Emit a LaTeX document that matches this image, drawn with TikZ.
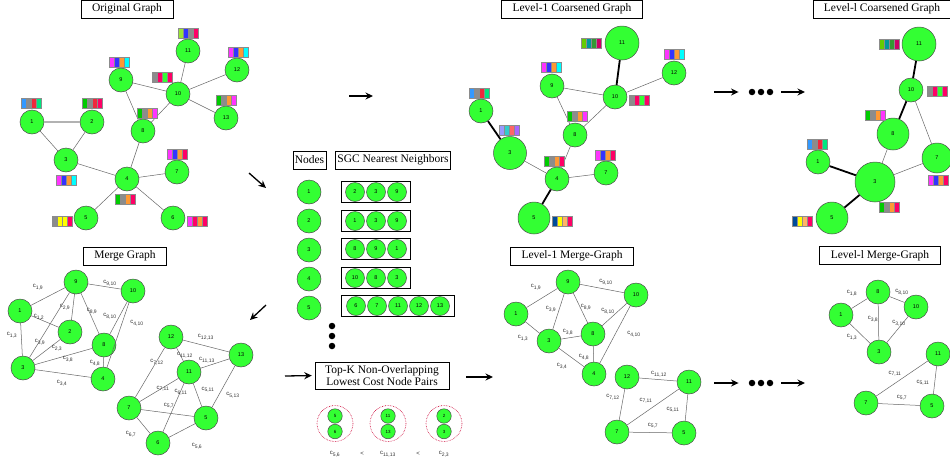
\documentclass[tikz,border=0pt]{standalone}
\usepackage{fontspec}
\setmainfont{Liberation Serif}
\setsansfont{Liberation Sans}
\usetikzlibrary{shapes,arrows.meta,positioning,calc,fit}

\definecolor{ngreen}{RGB}{51,255,51}
\definecolor{cBlue}{RGB}{51,153,255}
\definecolor{cGray}{RGB}{140,140,140}
\definecolor{cRed}{RGB}{240,40,60}
\definecolor{cSpring}{RGB}{0,230,128}
\definecolor{cGreen}{RGB}{0,204,0}
\definecolor{cPink}{RGB}{255,0,102}
\definecolor{cMag}{RGB}{255,51,255}
\definecolor{cBlueB}{RGB}{51,51,255}
\definecolor{cOrange}{RGB}{255,153,51}
\definecolor{cCyan}{RGB}{0,255,255}
\definecolor{cYellow}{RGB}{255,255,0}
\definecolor{cLime}{RGB}{153,230,51}
\definecolor{cOlive}{RGB}{102,204,0}
\definecolor{cTeal}{RGB}{0,153,153}
\definecolor{cDkGreen}{RGB}{51,153,51}
\definecolor{cCrimson}{RGB}{204,0,102}
\definecolor{cNavy}{RGB}{0,76,153}
\definecolor{cSand}{RGB}{255,179,102}
\definecolor{cLav}{RGB}{153,153,255}
\definecolor{cTurq}{RGB}{51,204,204}
\definecolor{cSalmon}{RGB}{255,102,102}
\definecolor{cPurple}{RGB}{170,102,255}

% feature bar: position, four cell colours
\newcommand{\featbar}[5]{%
  \begin{scope}[shift={#1}]
    \foreach \col [count=\i from 0] in {#2,#3,#4,#5}
      \filldraw[fill=\col, draw=black!45, line width=0.3pt] (-10+5*\i,-5) rectangle ++(5,10);
    \draw[black!45, line width=0.7pt] (-10,-5) rectangle (10,5);
  \end{scope}}
\newcommand{\ecost}[1]{c\textsubscript{#1}}

\begin{document}
\begin{tikzpicture}[
    x=1pt, y=-1pt,
    vertex/.style={circle, draw=black!70, fill=ngreen, line width=0.5pt, minimum size=24pt, inner sep=0pt, font=\fontsize{5.5}{6}\selectfont\sffamily},
    nbvertex/.style={vertex, minimum size=19pt},
    pairvertex/.style={vertex, minimum size=14.5pt, font=\fontsize{4.5}{5}\selectfont\sffamily},
    edge/.style={draw=black!60, line width=0.5pt},
    heavy/.style={draw=black, line width=1.8pt},
    lightedge/.style={draw=black!30, line width=1.8pt},
    title/.style={rectangle, draw, line width=0.6pt, font=\fontsize{11.5}{13}\selectfont, minimum height=18pt, inner xsep=11pt, inner ysep=0pt},
    head/.style={title, inner xsep=2pt},
    nbox/.style={rectangle, draw, line width=0.6pt, inner xsep=3.5pt, inner ysep=0.5pt},
    elab/.style={font=\fontsize{6}{6}\selectfont\sffamily, text=black!80, inner sep=0pt},
    arrow/.style={-{Stealth[length=7.5pt, width=7pt]}, line width=1.3pt},
    dot/.style={circle, fill=black, inner sep=0pt, minimum size=6.5pt},
    pairring/.style={circle, draw=purple!80!red, densely dotted, line width=0.6pt, minimum size=36pt}
]
\useasboundingbox (0,0) rectangle (950,461);

% Original graph
\node[title] (origtitle) at (127,9) {Original Graph};
\node[vertex] (o1) at (32,122) {1};
\node[vertex] (o2) at (92,122) {2};
\node[vertex] (o3) at (66,160) {3};
\node[vertex] (o4) at (127,179) {4};
\node[vertex] (o5) at (86,218) {5};
\node[vertex] (o6) at (173,218) {6};
\node[vertex] (o7) at (177,172) {7};
\node[vertex] (o8) at (143,131) {8};
\node[vertex] (o9) at (121,80) {9};
\node[vertex] (o10) at (178,94) {10};
\node[vertex] (o11) at (188,51) {11};
\node[vertex] (o12) at (237,70) {12};
\node[vertex] (o13) at (226,118) {13};
\draw[lightedge] (o1) -- (o2);
\draw[edge] (o1) -- (o3);
\draw[edge] (o2) -- (o3);
\draw[edge] (o3) -- (o4);
\draw[edge] (o4) -- (o8);
\draw[edge] (o4) -- (o5);
\draw[edge] (o4) -- (o6);
\draw[edge] (o4) -- (o7);
\draw[edge] (o8) -- (o9);
\draw[edge] (o8) -- (o10);
\draw[edge] (o9) -- (o10);
\draw[edge] (o10) -- (o11);
\draw[edge] (o10) -- (o12);
\draw[edge] (o10) -- (o13);
\featbar{(31,103)}{cBlue}{cGray}{cRed}{cSpring}
\featbar{(92,103)}{cGreen}{cGray}{cRed}{cPink}
\featbar{(66,180)}{cMag}{cBlueB}{cOrange}{cCyan}
\featbar{(125,199)}{cGreen}{cGray}{cOrange}{cPink}
\featbar{(62,221)}{cGray}{cYellow}{cYellow}{cPink}
\featbar{(197,221)}{cMag}{cPink}{cOrange}{cPink}
\featbar{(177,154)}{cMag}{cBlueB}{cOrange}{cPink}
\featbar{(147,113)}{cGreen}{cGray}{cOrange}{cMag}
\featbar{(119,62)}{cMag}{cBlueB}{cOrange}{cCyan}
\featbar{(162,77)}{cGray}{cPink}{ngreen}{cPink}
\featbar{(188,33)}{cLime}{cBlueB}{cGray}{cPink}
\featbar{(238,52)}{cMag}{cBlueB}{cOrange}{cCyan}
\featbar{(226,100)}{cGreen}{cGray}{cOrange}{cMag}

% Merge graph
\node[title] (mergetitle) at (125,256) {Merge Graph};
\node[vertex] (m9) at (76,282) {9};
\node[vertex] (m10) at (133,291) {10};
\node[vertex] (m1) at (20,311) {1};
\node[vertex] (m2) at (70,332) {2};
\node[vertex] (m8) at (104,345) {8};
\node[vertex] (m3) at (23,368) {3};
\node[vertex] (m4) at (103,379) {4};
\node[vertex] (m12) at (171,337) {12};
\node[vertex] (m13) at (241,355) {13};
\node[vertex] (m11) at (189,372) {11};
\node[vertex] (m7) at (129,408) {7};
\node[vertex] (m5) at (206,418) {5};
\node[vertex] (m6) at (158,443) {6};
\draw[edge] (m1) -- (m9);   \node[elab] at (38,287) {\ecost{1,9}};
\draw[edge] (m9) -- (m10);  \node[elab] at (110,283) {\ecost{9,10}};
\draw[edge] (m2) -- (m9);   \node[elab] at (65,307) {\ecost{2,9}};
\draw[edge] (m8) -- (m9);   \node[elab] at (92,311) {\ecost{8,9}};
\draw[edge] (m1) -- (m2);   \node[elab] at (39,317) {\ecost{1,2}};
\draw[edge] (m8) -- (m10);  \node[elab] at (110,316) {\ecost{8,10}};
\draw[edge] (m4) -- (m10);  \node[elab] at (137,323) {\ecost{4,10}};
\draw[edge] (m1) -- (m3);   \node[elab] at (12,335) {\ecost{1,3}};
\draw[edge] (m3) -- (m9);   \node[elab] at (40,342) {\ecost{3,9}};
\draw[edge] (m2) -- (m3);   \node[elab] at (57,348) {\ecost{2,3}};
\draw[edge] (m3) -- (m8);   \node[elab] at (68,359) {\ecost{3,8}};
\draw[edge] (m4) -- (m8);   \node[elab] at (95,363) {\ecost{4,8}};
\draw[edge] (m3) -- (m4);   \node[elab] at (62,383) {\ecost{3,4}};
\draw[edge] (m12) -- (m13); \node[elab] at (206,337) {\ecost{12,13}};
\draw[edge] (m11) -- (m12); \node[elab] at (185,355) {\ecost{11,12}};
\draw[edge] (m11) -- (m13); \node[elab] at (207,360) {\ecost{11,13}};
\draw[edge] (m7) -- (m12);  \node[elab] at (157,362) {\ecost{7,12}};
\draw[edge] (m7) -- (m11);  \node[elab] at (163,389) {\ecost{7,11}};
\draw[edge] (m6) -- (m11);  \node[elab] at (181,392) {\ecost{6,11}};
\draw[edge] (m5) -- (m11);  \node[elab] at (208,390) {\ecost{5,11}};
\draw[edge] (m5) -- (m13);  \node[elab] at (233,395) {\ecost{5,13}};
\draw[edge] (m5) -- (m7);   \node[elab] at (169,406) {\ecost{5,7}};
\draw[edge] (m6) -- (m7);   \node[elab] at (131,434) {\ecost{6,7}};
\draw[edge] (m5) -- (m6);   \node[elab] at (197,446) {\ecost{5,6}};

% Nodes and SGC nearest neighbours
\node[head] (nodeshead) at (309.5,160) {Nodes};
\node[head] (sgchead) at (393,160) {SGC Nearest Neighbors};
\node[vertex] (l1) at (309,192) {1};
\node[vertex, below=4.5pt of l1] (l2) {2};
\node[vertex, below=4.5pt of l2] (l3) {3};
\node[vertex, below=4.5pt of l3] (l4) {4};
\node[vertex, below=4.5pt of l4] (l5) {5};
\node[nbvertex] (r1a) at (355,192) {2};
\node[nbvertex, right=1.5pt of r1a] (r1b) {3};
\node[nbvertex, right=1.5pt of r1b] (r1c) {9};
\node[nbox, fit=(r1a)(r1c)] (row1) {};
\node[nbvertex] (r2a) at (355,221) {1};
\node[nbvertex, right=1.5pt of r2a] (r2b) {3};
\node[nbvertex, right=1.5pt of r2b] (r2c) {9};
\node[nbox, fit=(r2a)(r2c)] (row2) {};
\node[nbvertex] (r3a) at (355,249) {8};
\node[nbvertex, right=1.5pt of r3a] (r3b) {9};
\node[nbvertex, right=1.5pt of r3b] (r3c) {1};
\node[nbox, fit=(r3a)(r3c)] (row3) {};
\node[nbvertex] (r4a) at (355,278) {10};
\node[nbvertex, right=1.5pt of r4a] (r4b) {8};
\node[nbvertex, right=1.5pt of r4b] (r4c) {3};
\node[nbox, fit=(r4a)(r4c)] (row4) {};
\node[nbvertex] (r5a) at (356,306) {6};
\node[nbvertex, right=1.5pt of r5a] (r5b) {7};
\node[nbvertex, right=1.5pt of r5b] (r5c) {11};
\node[nbvertex, right=1.5pt of r5c] (r5d) {12};
\node[nbvertex, right=1.5pt of r5d] (r5e) {13};
\node[nbox, fit=(r5a)(r5e), inner xsep=5pt] (row5) {};
\node[dot] (vd1) at (332,326) {};
\node[dot] (vd2) at (332,336) {};
\node[dot] (vd3) at (332,346) {};

% Top-K pairs
\node[title, align=center, inner xsep=10pt, minimum height=27pt, font=\fontsize{11.5}{12.5}\selectfont] (topk) at (382,375.5) {Top-K Non-Overlapping\\Lowest Cost Node Pairs};
\node[pairvertex] (p1a) at (335,416) {5};
\node[pairvertex, below=0.5pt of p1a] (p1b) {6};
\node[pairring] (ring1) at (335,423.5) {};
\node[pairvertex] (p2a) at (388,416) {11};
\node[pairvertex, below=0.5pt of p2a] (p2b) {13};
\node[pairring] (ring2) at (388,423.5) {};
\node[pairvertex] (p3a) at (444,416) {2};
\node[pairvertex, below=0.5pt of p3a] (p3b) {3};
\node[pairring] (ring3) at (444,423.5) {};
\node[elab] (cost1) at (335,454) {\ecost{5,6}};
\node[elab] (lt1) at (362,454) {<};
\node[elab] (cost2) at (388,454) {\ecost{11,13}};
\node[elab] (lt2) at (418,454) {<};
\node[elab] (cost3) at (444,454) {\ecost{2,3}};

% Level-1 coarsened graph
\node[title] (l1ctitle) at (572,9) {Level-1 Coarsened Graph};
\node[vertex, minimum size=34pt] (a11) at (622,43) {11};
\node[vertex] (a12) at (674,73) {12};
\node[vertex] (a9) at (552,86) {9};
\node[vertex] (a10) at (615,97) {10};
\node[vertex] (a1) at (481,111) {1};
\node[vertex] (a8) at (575,135) {8};
\node[vertex, minimum size=33pt] (a3) at (510,153) {3};
\node[vertex] (a4) at (557,179) {4};
\node[vertex] (a7) at (606,173) {7};
\node[vertex, minimum size=32pt] (a5) at (534,218) {5};
\draw[heavy] (a11) -- (a10);
\draw[edge] (a10) -- (a12);
\draw[edge] (a9) -- (a10);
\draw[edge] (a9) -- (a8);
\draw[edge] (a8) -- (a10);
\draw[heavy] (a1) -- (a3);
\draw[edge] (a3) -- (a4);
\draw[edge] (a4) -- (a8);
\draw[edge] (a4) -- (a7);
\draw[heavy] (a4) -- (a5);
\featbar{(591,43)}{cOlive}{cTeal}{cDkGreen}{cCrimson}
\featbar{(674,54)}{cMag}{cBlueB}{cOrange}{cCyan}
\featbar{(551,67)}{cMag}{cBlueB}{cOrange}{cCyan}
\featbar{(639,100)}{cGray}{cPink}{ngreen}{cPink}
\featbar{(479,93)}{cBlue}{cGray}{cRed}{cSpring}
\featbar{(509,130)}{cLav}{cTurq}{cSalmon}{cPurple}
\featbar{(577,116)}{cGreen}{cGray}{cOrange}{cMag}
\featbar{(554,161)}{cGreen}{cGray}{cOrange}{cPink}
\featbar{(605,155)}{cMag}{cBlueB}{cOrange}{cPink}
\featbar{(562,221)}{cNavy}{cYellow}{cSand}{cPink}

% Level-1 merge graph
\node[title] (l1mtitle) at (572,256) {Level-1 Merge-Graph};
\node[vertex] (b9) at (568,282) {9};
\node[vertex] (b10) at (636,295) {10};
\node[vertex] (b1) at (516,314) {1};
\node[vertex] (b3) at (549,341) {3};
\node[vertex] (b8) at (593,334) {8};
\node[vertex] (b4) at (594,374) {4};
\node[vertex] (b12) at (627,377) {12};
\node[vertex] (b11) at (689,382) {11};
\node[vertex] (b7) at (617,432) {7};
\node[vertex] (b5) at (684,433) {5};
\draw[edge] (b1) -- (b9);   \node[elab] at (536,287) {\ecost{1,9}};
\draw[edge] (b9) -- (b10);  \node[elab] at (606,282) {\ecost{9,10}};
\draw[edge] (b3) -- (b9);   \node[elab] at (551,309) {\ecost{3,9}};
\draw[edge] (b8) -- (b9);   \node[elab] at (586,307) {\ecost{8,9}};
\draw[edge] (b8) -- (b10);  \node[elab] at (608,311) {\ecost{8,10}};
\draw[edge] (b4) -- (b10);  \node[elab] at (634,334) {\ecost{4,10}};
\draw[edge] (b1) -- (b3);   \node[elab] at (523,338) {\ecost{1,3}};
\draw[edge] (b3) -- (b8);   \node[elab] at (568,332) {\ecost{3,8}};
\draw[edge] (b4) -- (b8);   \node[elab] at (584,357) {\ecost{4,8}};
\draw[edge] (b3) -- (b4);   \node[elab] at (562,366) {\ecost{3,4}};
\draw[edge] (b11) -- (b12); \node[elab] at (659,374) {\ecost{11,12}};
\draw[edge] (b7) -- (b12);  \node[elab] at (613,397) {\ecost{7,12}};
\draw[edge] (b7) -- (b11);  \node[elab] at (646,401) {\ecost{7,11}};
\draw[edge] (b5) -- (b11);  \node[elab] at (673,410) {\ecost{5,11}};
\draw[edge] (b5) -- (b7);   \node[elab] at (653,426) {\ecost{5,7}};

% Level-l coarsened graph
\node[title] (lctitle) at (882,9) {Level-l Coarsened Graph};
\node[vertex, minimum size=34pt] (c11) at (919,44) {11};
\node[vertex] (c10) at (911,90) {10};
\node[vertex, minimum size=32pt] (c8) at (893,134) {8};
\node[vertex, minimum size=30pt] (c7) at (937,158) {7};
\node[vertex] (c1) at (818,162) {1};
\node[vertex, minimum size=40pt] (c3) at (875,182) {3};
\node[vertex, minimum size=32pt] (c5) at (832,218) {5};
\draw[heavy] (c11) -- (c10);
\draw[heavy] (c10) -- (c8);
\draw[edge] (c10) -- (c7);
\draw[edge] (c8) -- (c3);
\draw[edge] (c7) -- (c3);
\draw[heavy] (c1) -- (c3);
\draw[heavy] (c3) -- (c5);
\featbar{(889,44)}{cOlive}{cTeal}{cDkGreen}{cCrimson}
\featbar{(937,91)}{cGray}{cPink}{ngreen}{cPink}
\featbar{(875,115)}{cGreen}{cGray}{cOrange}{cMag}
\featbar{(817,144)}{cBlue}{cGray}{cRed}{cSpring}
\featbar{(938,180)}{cMag}{cBlueB}{cOrange}{cPink}
\featbar{(889,207)}{cGreen}{cGray}{cOrange}{cPink}
\featbar{(802,221)}{cNavy}{cYellow}{cSand}{cPink}

% Level-l merge graph
\node[title] (lmtitle) at (880,255.5) {Level-l Merge-Graph};
\node[vertex] (d8) at (878,292) {8};
\node[vertex] (d10) at (916,307) {10};
\node[vertex] (d1) at (841,315) {1};
\node[vertex] (d3) at (879,352) {3};
\node[vertex] (d11) at (938,354) {11};
\node[vertex] (d7) at (866,403) {7};
\node[vertex] (d5) at (932,406) {5};
\draw[edge] (d1) -- (d8);   \node[elab] at (852,293) {\ecost{1,8}};
\draw[edge] (d8) -- (d10);  \node[elab] at (902,292) {\ecost{8,10}};
\draw[edge] (d8) -- (d3);   \node[elab] at (873,319) {\ecost{3,8}};
\draw[edge] (d10) -- (d3);  \node[elab] at (899,323) {\ecost{3,10}};
\draw[edge] (d1) -- (d3);   \node[elab] at (852,337) {\ecost{1,3}};
\draw[edge] (d11) -- (d7);  \node[elab] at (895,374) {\ecost{7,11}};
\draw[edge] (d11) -- (d5);  \node[elab] at (923,383) {\ecost{5,11}};
\draw[edge] (d7) -- (d5);   \node[elab] at (902,398) {\ecost{5,7}};

% Flow arrows
\coordinate (origout) at (249,173);
\coordinate (nodesin) at (266,188);
\draw[arrow] (origout) -- (nodesin);
\coordinate (nodesout) at (266,305);
\coordinate (mergein) at (250,320);
\draw[arrow] (nodesout) -- (mergein);
\coordinate (mergeout) at (285,376);
\draw[arrow, shorten >=3pt] (mergeout) -- (topk.west);
\coordinate (topkout) at (466,377);
\coordinate (l1min) at (493,377);
\draw[arrow] (topkout) -- (l1min);
\coordinate (nodesright) at (349,96);
\coordinate (l1cin) at (373,96);
\draw[arrow] (nodesright) -- (l1cin);

% Repeated levels
\coordinate (topchain) at (714,92);
\node[dot] (td1) at (752,92) {};
\node[dot] (td2) at (761,92) {};
\node[dot] (td3) at (770,92) {};
\coordinate (topchainend) at (805,92);
\draw[arrow, shorten >=10pt] (topchain) -- (td1);
\draw[arrow, shorten <=8pt] (td3) -- (topchainend);
\coordinate (botchain) at (714,383);
\node[dot] (bd1) at (752,383) {};
\node[dot] (bd2) at (761,383) {};
\node[dot] (bd3) at (770,383) {};
\coordinate (botchainend) at (805,383);
\draw[arrow, shorten >=10pt] (botchain) -- (bd1);
\draw[arrow, shorten <=8pt] (bd3) -- (botchainend);

\end{tikzpicture}
\end{document}
